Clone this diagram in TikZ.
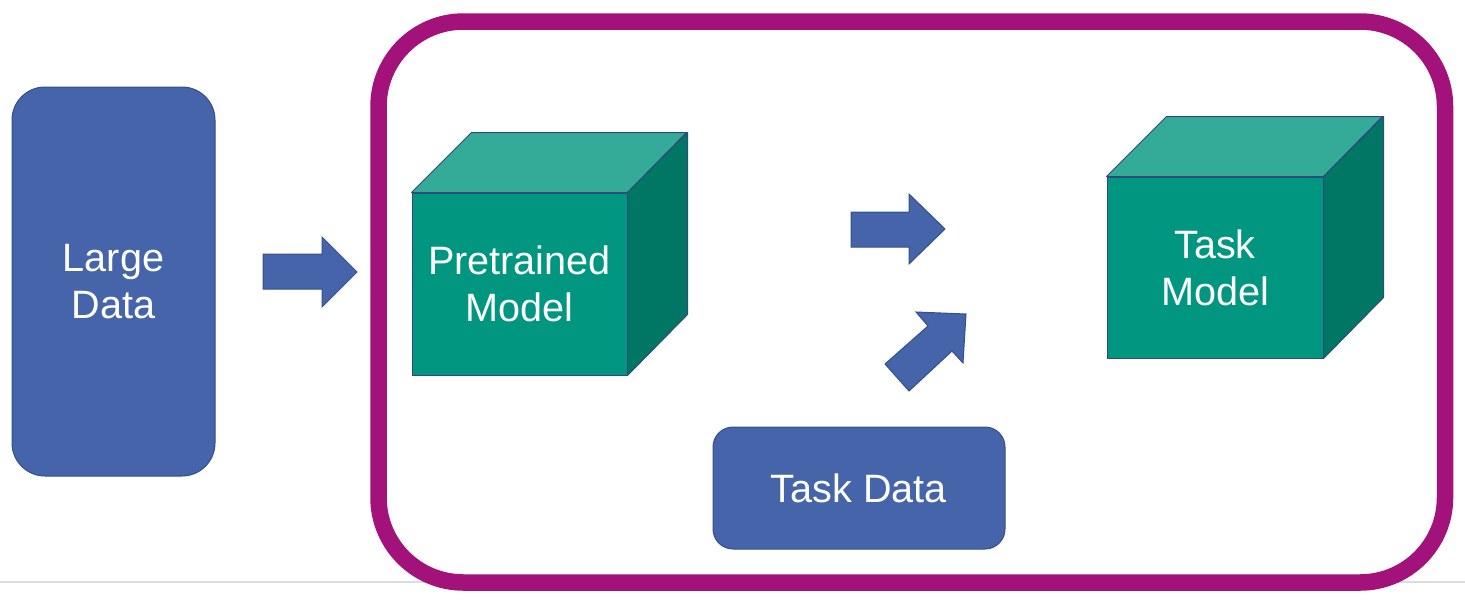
\documentclass[tikz,border=0pt]{standalone}
\usepackage{fontspec}
\setmainfont{Liberation Sans}
\definecolor{boxblue}{HTML}{4564A9}
\definecolor{boxedge}{HTML}{34508C}
\definecolor{tealfront}{HTML}{009680}
\definecolor{tealtop}{HTML}{34AA98}
\definecolor{tealside}{HTML}{007664}
\definecolor{cubeedge}{HTML}{2F4B7C}
\definecolor{framepurple}{HTML}{A3117A}
\definecolor{rulegray}{HTML}{DCDCDC}
\begin{document}
\begin{tikzpicture}[x=0.5pt,y=-0.5pt,
  lbl/.style={text=white, font=\fontsize{19.8}{23.5}\selectfont, align=center},
  databox/.style={fill=boxblue, draw=boxedge, line width=0.5pt, lbl},
  front/.style={fill=tealfront, draw=cubeedge, line width=0.5pt, lbl, inner sep=0pt},
  topface/.style={fill=tealtop, draw=cubeedge, line width=0.5pt, line join=round},
  sideface/.style={fill=tealside, draw=cubeedge, line width=0.5pt, line join=round},
  blockarrow/.style={fill=boxblue, draw=boxedge, line width=0.5pt, line join=miter}
]
\useasboundingbox (0,0) rectangle (1465,600);
% light rule
\draw[rulegray, line width=1pt] (0,582) -- (1465,582);
% purple frame
\node[draw=framepurple, line width=8.25pt, rounded corners=42.5pt, fill=white,
      minimum width=533.25pt, minimum height=280.5pt, inner sep=0pt] (frame) at (911.75,302) {};
% Large Data
\node[databox, rounded corners=16.5pt, minimum width=101.5pt, minimum height=194.5pt] (large) at (113.5,281.5) {Large\\Data};
% Task Data
\node[databox, rounded corners=10pt, minimum width=146pt, minimum height=61pt] (taskdata) at (859,488) {Task Data};
% Pretrained model cube
\node[front, minimum width=107.5pt, minimum height=91pt] (pre) at (519.5,284) {Pretrained\\Model};
\draw[topface] (pre.north west) -- ++(60,-60) -- ++(215,0) -- (pre.north east) -- cycle;
\draw[sideface] (pre.north east) -- ++(60,-60) -- ++(0,182) -- (pre.south east) -- cycle;
% Task model cube
\node[front, minimum width=108pt, minimum height=90.5pt] (task) at (1215,267.5) {Task\\Model};
\draw[topface] (task.north west) -- ++(60,-60) -- ++(216,0) -- (task.north east) -- cycle;
\draw[sideface] (task.north east) -- ++(60,-60) -- ++(0,181) -- (task.south east) -- cycle;
% block arrows
\draw[blockarrow] (263,254) -- (322,254) -- (322,237) -- (357,272) -- (322,307) -- (322,289) -- (263,289) -- cycle;
\draw[blockarrow] (851,212) -- (909,212) -- (909,194) -- (945,229) -- (909,264) -- (909,247) -- (851,247) -- cycle;
\draw[blockarrow] (966,314) -- (963,363) -- (952,351) -- (909,391) -- (885,364) -- (928,326) -- (916,312) -- cycle;
\end{tikzpicture}
\end{document}
